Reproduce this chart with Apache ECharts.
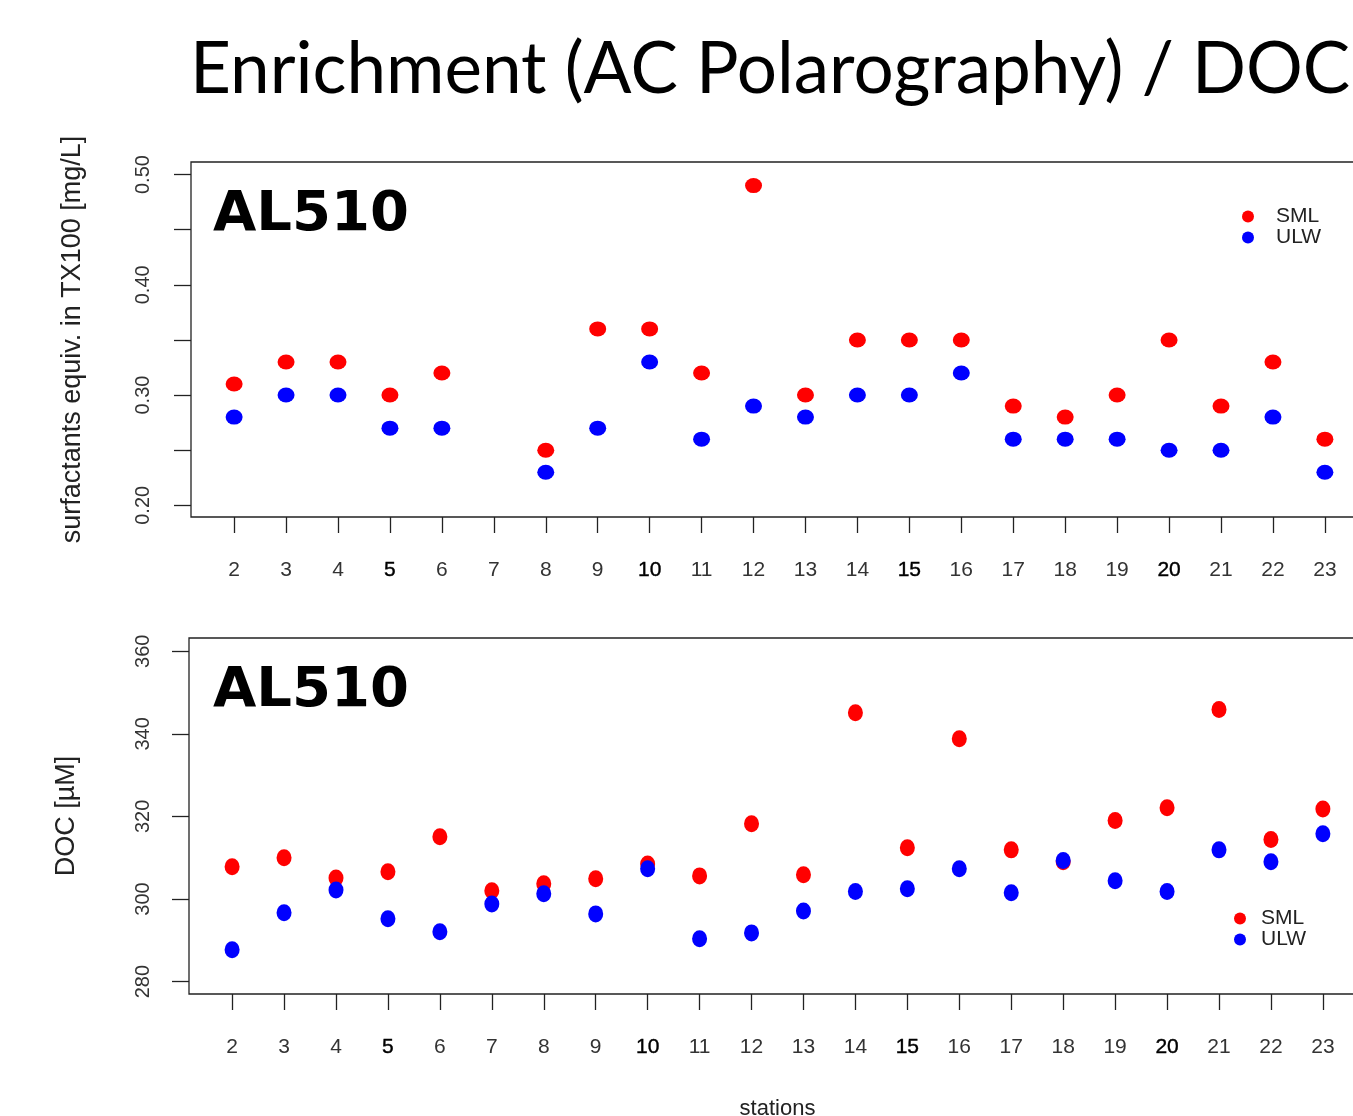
<!DOCTYPE html>
<html>
<head>
<meta charset="utf-8">
<script src="https://cdn.jsdelivr.net/npm/echarts@6/dist/echarts.min.js"></script>
<style>
  html, body { margin: 0; padding: 0; background: #fff; }
  #chart { width: 1353px; height: 1116px; }
</style>
</head>
<body>
<div id="chart"></div>
<script>
// stations on the x axis
var stations = [2, 3, 4, 5, 6, 7, 8, 9, 10, 11, 12, 13, 14, 15, 16, 17, 18, 19, 20, 21, 22, 23];

// top panel: surfactants (AC polarography), station 7 missing
var surfSML = [0.31, 0.33, 0.33, 0.30, 0.32, null, 0.25, 0.36, 0.36, 0.32, 0.49, 0.30, 0.35, 0.35, 0.35, 0.29, 0.28, 0.30, 0.35, 0.29, 0.33, 0.26];
var surfULW = [0.28, 0.30, 0.30, 0.27, 0.27, null, 0.23, 0.27, 0.33, 0.26, 0.29, 0.28, 0.30, 0.30, 0.32, 0.26, 0.26, 0.26, 0.25, 0.25, 0.28, 0.23];

// bottom panel: DOC
var docSML = [307.8, 310.0, 305.1, 306.6, 315.1, 302.0, 303.7, 304.9, 308.5, 305.6, 318.2, 305.9, 345.1, 312.4, 338.8, 311.9, 309.0, 319.0, 322.1, 345.9, 314.4, 321.8];
var docULW = [287.7, 296.7, 302.2, 295.2, 292.1, 298.8, 301.3, 296.4, 307.3, 290.4, 291.8, 297.1, 301.8, 302.5, 307.3, 301.5, 309.3, 304.4, 301.8, 311.9, 309.0, 315.8];

// tick marks and labels
var surfTicks = [0.20, 0.25, 0.30, 0.35, 0.40, 0.45, 0.50];
var surfLabels = [0.20, 0.30, 0.40, 0.50];
var docTicks = [280, 300, 320, 340, 360];

var RED = '#ff0000';
var BLUE = '#0000ff';
var INK = '#222';

function pairs(vals) {
  var out = [];
  for (var i = 0; i < stations.length; i++) {
    if (vals[i] != null) out.push([stations[i], vals[i]]);
  }
  return out;
}

var xPad = 0.83;

function xAxisFor(idx, withName) {
  return {
    type: 'value',
    gridIndex: idx,
    min: stations[0] - xPad,
    max: stations[stations.length - 1] + xPad,
    axisLine: { show: false },
    splitLine: { show: false },
    axisTick: { customValues: stations, length: 16, lineStyle: { color: INK, width: 1.3 } },
    axisLabel: {
      customValues: stations,
      margin: 43,
      fontFamily: 'Liberation Sans',
      fontSize: 21,
      color: '#333',
      formatter: function (v) {
        return v % 5 === 0 ? '{b|' + v + '}' : '' + v;
      },
      rich: { b: { fontFamily: 'Liberation Sans', fontSize: 21, color: '#000', textBorderColor: '#000', textBorderWidth: 0.4 } }
    },
    name: withName ? 'stations' : '',
    nameLocation: 'middle',
    nameGap: 104,
    nameTextStyle: { fontFamily: 'Liberation Sans', fontSize: 22, color: INK }
  };
}

var chart = echarts.init(document.getElementById('chart'));

var option = {
  backgroundColor: '#fff',
  animation: false,
  grid: [
    { left: 191, top: 162, height: 355, right: -15, outerBoundsMode: 'none', show: true, borderColor: INK, borderWidth: 1.3 },
    { left: 189, top: 638, height: 356, right: -13, outerBoundsMode: 'none', show: true, borderColor: INK, borderWidth: 1.3 }
  ],
  xAxis: [xAxisFor(0, false), xAxisFor(1, true)],
  yAxis: [
    {
      type: 'value',
      gridIndex: 0,
      min: 0.1894,
      max: 0.5114,
      axisLine: { show: false },
      splitLine: { show: false },
      axisTick: { customValues: surfTicks, length: 17, lineStyle: { color: INK, width: 1.3 } },
      axisLabel: {
        customValues: surfLabels,
        rotate: 90,
        margin: 38,
        fontFamily: 'Liberation Sans',
        fontSize: 20,
        color: '#333',
        formatter: function (v) { return v.toFixed(2); }
      },
      name: 'surfactants equiv. in TX100 [mg/L]',
      nameLocation: 'middle',
      nameGap: 105,
      nameTextStyle: { fontFamily: 'Liberation Sans', fontSize: 27, color: INK }
    },
    {
      type: 'value',
      gridIndex: 1,
      min: 277.0,
      max: 363.2,
      axisLine: { show: false },
      splitLine: { show: false },
      axisTick: { customValues: docTicks, length: 17, lineStyle: { color: INK, width: 1.3 } },
      axisLabel: {
        customValues: docTicks,
        rotate: 90,
        margin: 36,
        fontFamily: 'Liberation Sans',
        fontSize: 20,
        color: '#333'
      },
      name: 'DOC [µM]',
      nameLocation: 'middle',
      nameGap: 109,
      nameTextStyle: { fontFamily: 'Liberation Sans', fontSize: 27, color: INK }
    }
  ],
  legend: [
    {
      left: 1237, top: 201, orient: 'vertical', itemGap: 0,
      itemWidth: 12, itemHeight: 12, icon: 'circle', selectedMode: false,
      data: ['SML', 'ULW'],
      textStyle: { fontFamily: 'Liberation Sans', fontSize: 21, color: INK, lineHeight: 19, padding: [0, 0, 0, 17] }
    },
    {
      left: 1229, top: 903, orient: 'vertical', itemGap: 0,
      itemWidth: 12, itemHeight: 12, icon: 'circle', selectedMode: false,
      data: ['SML', 'ULW'],
      textStyle: { fontFamily: 'Liberation Sans', fontSize: 21, color: INK, lineHeight: 19, padding: [0, 0, 0, 10] }
    }
  ],
  graphic: [
    {
      type: 'text', left: 190, top: 35,
      style: { text: 'Enrichment (AC Polarography) / DOC', font: '71px Lato', fill: '#000' }
    },
    {
      type: 'text', left: 213, top: 187,
      style: { text: 'AL510', font: 'bold 56px "DejaVu Sans"', fill: '#000' }
    },
    {
      type: 'text', left: 213, top: 663,
      style: { text: 'AL510', font: 'bold 56px "DejaVu Sans"', fill: '#000' }
    }
  ],
  series: [
    { name: 'SML', type: 'scatter', xAxisIndex: 0, yAxisIndex: 0, symbolSize: [17, 15], itemStyle: { color: RED, opacity: 1 }, data: pairs(surfSML) },
    { name: 'ULW', type: 'scatter', xAxisIndex: 0, yAxisIndex: 0, symbolSize: [17, 15], itemStyle: { color: BLUE, opacity: 1 }, data: pairs(surfULW) },
    { name: 'SML', type: 'scatter', xAxisIndex: 1, yAxisIndex: 1, symbolSize: [15, 17], itemStyle: { color: RED, opacity: 1 }, data: pairs(docSML) },
    { name: 'ULW', type: 'scatter', xAxisIndex: 1, yAxisIndex: 1, symbolSize: [15, 17], itemStyle: { color: BLUE, opacity: 1 }, data: pairs(docULW) }
  ]
};

chart.setOption(option);
</script>
</body>
</html>
